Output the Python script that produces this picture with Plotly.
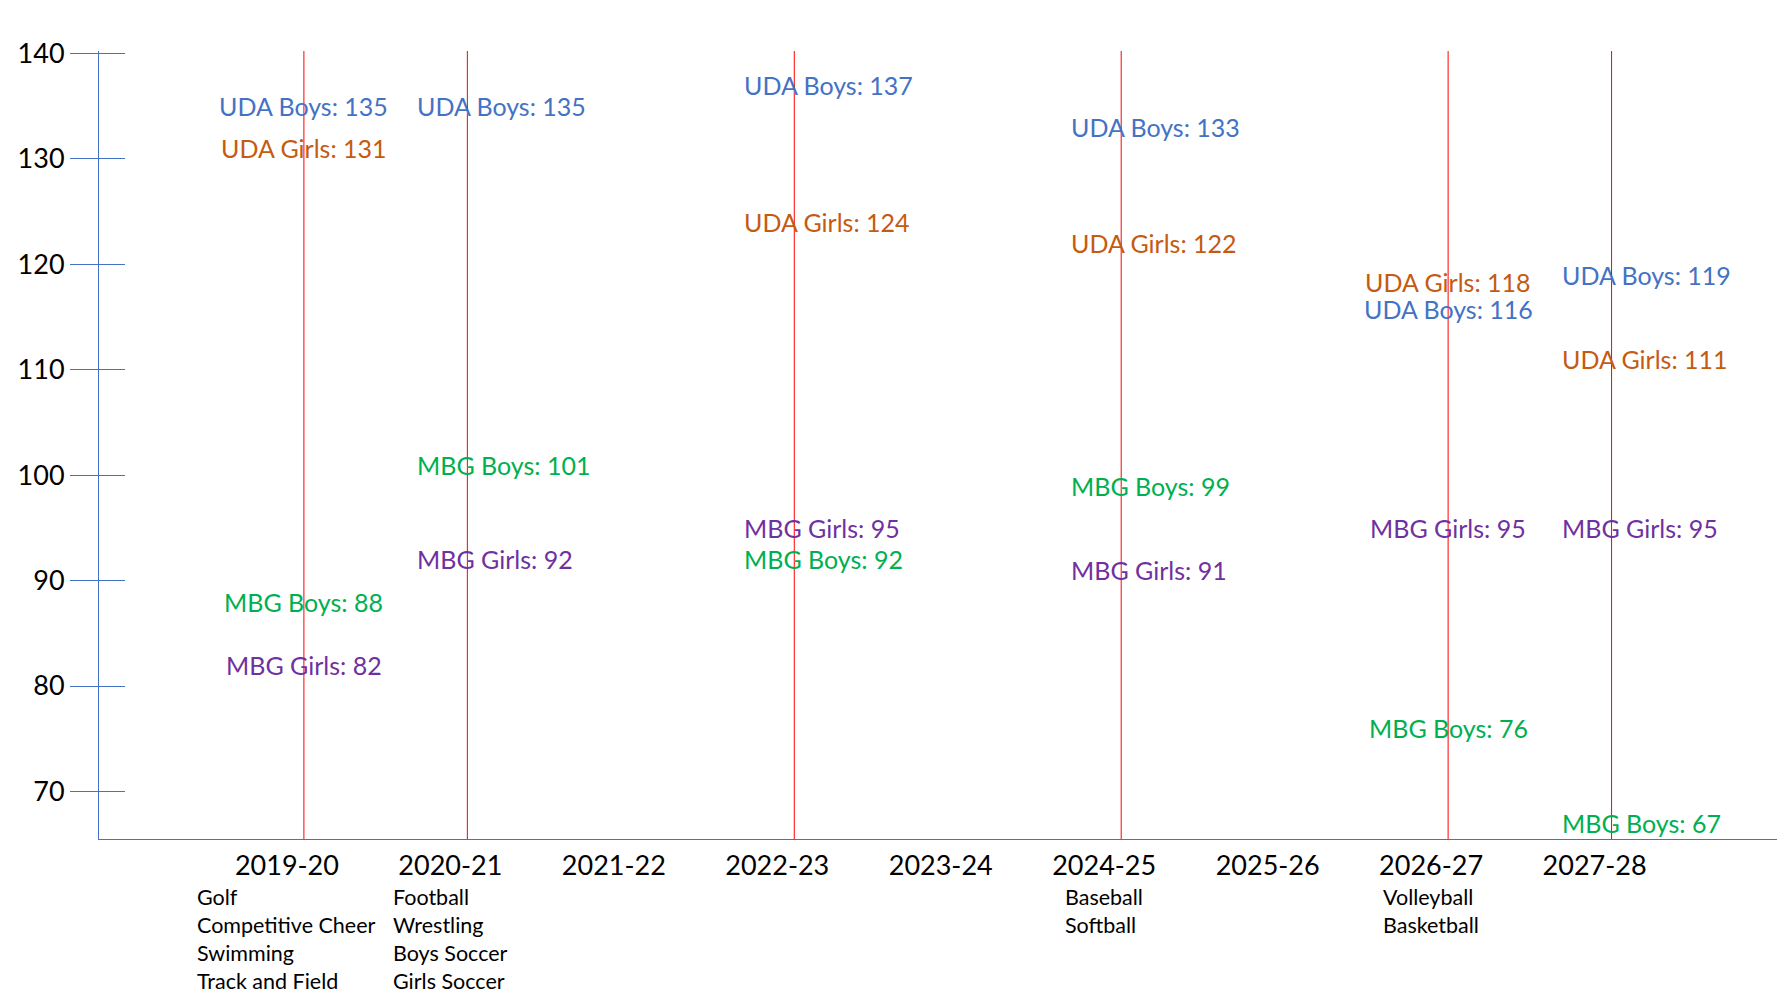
import plotly.graph_objects as go

# ---------------- data ----------------
categories = ["2019-20", "2020-21", "2021-22", "2022-23", "2023-24",
              "2024-25", "2025-26", "2026-27", "2027-28"]
uda_boys = [135, 135, None, 137, None, 133, None, 116, 119]
uda_girls = [131, 143, None, 124, None, 122, None, 118, 111]
mbg_boys = [88, 101, None, 92, None, 99, None, 76, 67]
mbg_girls = [82, 92, None, 95, None, 91, None, 95, 95]
sports = {
    "2019-20": ["Golf", "Competitive Cheer", "Swimming", "Track and Field"],
    "2020-21": ["Football", "Wrestling", "Boys Soccer", "Girls Soccer"],
    "2024-25": ["Baseball", "Softball"],
    "2026-27": ["Volleyball", "Basketball"],
}
y_ticks = [70, 80, 90, 100, 110, 120, 130, 140]

series = [
    ("UDA Boys", uda_boys, "#4472C4"),
    ("UDA Girls", uda_girls, "#C55A11"),
    ("MBG Boys", mbg_boys, "#00B050"),
    ("MBG Girls", mbg_girls, "#7030A0"),
]

FONT = "Lato, 'Open Sans', sans-serif"
AXIS_BLUE = "#4472C4"
LABEL_SIZE = 25

# figure geometry (page body has an 8px margin)
W, H = 1777, 987
ML, MR, MT, MB = 91, 0, 43, 156
yr = [65.5, 140.2]
px_per_unit = (H - MT - MB) / (yr[1] - yr[0])

idx = list(range(len(categories)))
has_data = [any(s[1][i] is not None for s in series) for i in idx]

fig = go.Figure()

# invisible data traces (bind the axes to the data)
for name, vals, col in series:
    fig.add_trace(go.Scatter(x=idx, y=vals, mode="markers", name=name,
                             marker=dict(color=col, opacity=0),
                             hoverinfo="skip", showlegend=False))
fig.add_trace(go.Scatter(x=idx, y=uda_boys, yaxis="y2", mode="markers",
                         marker=dict(opacity=0), hoverinfo="skip",
                         showlegend=False))

annotations = []
shapes = []

# red vertical lines at categories having data
for i in idx:
    if has_data[i]:
        shapes.append(dict(type="line", xref="x", yref="paper",
                           x0=i, x1=i, y0=0, y1=1,
                           line=dict(color="#FF0000", width=1)))

# value labels (with simple collision avoidance inside a category)
for i in idx:
    if not has_data[i]:
        continue
    labels = [(v, name, col) for name, vals, col in series
              if (v := vals[i]) is not None]
    labels.sort(key=lambda t: t[0])
    shifts = [0.0] * len(labels)
    min_gap = 27.0
    for k in range(1, len(labels)):
        gap = (labels[k][0] - labels[k - 1][0]) * px_per_unit
        if gap < min_gap:
            d = (min_gap - gap) / 2
            shifts[k] += d
            shifts[k - 1] -= d
    crowded = i + 1 < len(idx) and has_data[i + 1]
    for (v, name, col), ys in zip(labels, shifts):
        annotations.append(dict(
            x=i, y=v, xref="x", yref="y", text=f"{name}: {v}",
            showarrow=False,
            xanchor="center" if crowded else "left",
            xshift=0 if crowded else -52,
            yanchor="middle", yshift=ys,
            font=dict(family=FONT, size=LABEL_SIZE, color=col)))

# sports listed under categories
for c, lst in sports.items():
    i = categories.index(c)
    annotations.append(dict(
        x=i, y=0, xref="x", yref="paper", text="<br>".join(lst),
        showarrow=False, xanchor="center", yanchor="top", align="left",
        xshift=-17, yshift=-43,
        font=dict(family=FONT, size=21.5, color="black")))

fig.update_layout(
    width=W, height=H,
    margin=dict(l=ML, r=MR, t=MT, b=MB, pad=0),
    paper_bgcolor="white", plot_bgcolor="white",
    showlegend=False,
    xaxis=dict(range=[-1.2535, 9.061], tickmode="array", tickvals=idx,
               ticktext=categories, showgrid=False, zeroline=False,
               showline=True, linecolor=AXIS_BLUE, linewidth=1,
               ticks="", ticklabelshift=-17, ticklabelstandoff=3,
               tickfont=dict(family=FONT, size=27, color="black")),
    yaxis=dict(range=yr, tickmode="array", tickvals=y_ticks,
               showgrid=False, zeroline=False, showline=True,
               linecolor=AXIS_BLUE, linewidth=1,
               ticks="outside", ticklen=28, tickcolor=AXIS_BLUE, tickwidth=1,
               tickfont=dict(family=FONT, size=27, color="black")),
    yaxis2=dict(range=yr, overlaying="y", side="left", tickmode="array",
                tickvals=y_ticks, showticklabels=False, showgrid=False,
                zeroline=False, showline=False, ticks="inside", ticklen=26,
                tickcolor=AXIS_BLUE, tickwidth=1),
    annotations=annotations,
    shapes=shapes,
)

fig.write_html("out.html")
